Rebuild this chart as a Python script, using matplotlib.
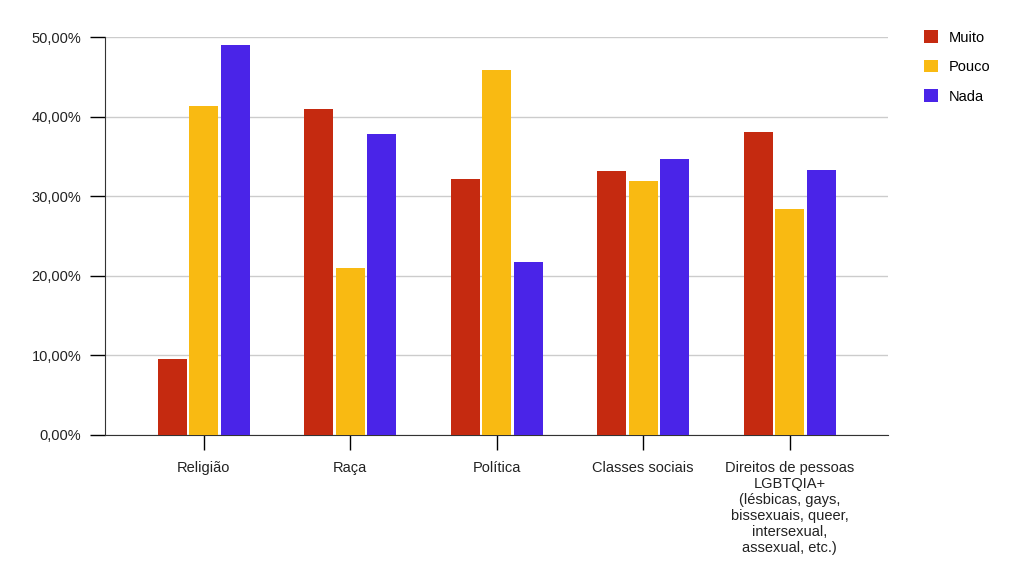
import numpy as np
import matplotlib.pyplot as plt
from matplotlib.ticker import FuncFormatter

plt.rcParams['font.family'] = ['Liberation Sans', 'DejaVu Sans']

categorias = ["Religião", "Raça", "Política", "Classes sociais",
              "Direitos de pessoas\nLGBTQIA+\n(lésbicas, gays,\nbissexuais, queer,\nintersexual,\nassexual, etc.)"]
muito = [9.55, 40.95, 32.2, 33.2, 38.1]
pouco = [41.3, 21.0, 45.9, 31.9, 28.4]
nada = [49.0, 37.8, 21.7, 34.7, 33.3]

series = [("Muito", muito, "#c52a10"),
          ("Pouco", pouco, "#f9ba12"),
          ("Nada", nada, "#4a24e8")]

fig = plt.figure(figsize=(10.24, 5.83), dpi=100)
ax = fig.add_axes([0.1025, 0.2539, 0.7645, 0.6826])

x = np.arange(len(categorias))
width = 0.198
offsets = [-0.215, 0, 0.215]
for (nome, vals, cor), off in zip(series, offsets):
    ax.bar(x + off, np.array(vals) / 100, width, color=cor, label=nome, zorder=3)

ax.set_ylim(0, 0.5)
ax.set_xlim(-0.675, 4.67)
ax.set_yticks(np.arange(0, 0.51, 0.1))
ax.yaxis.set_major_formatter(FuncFormatter(lambda v, p: f"{v*100:.2f}%".replace(".", ",")))
ax.set_xticks(x)
ax.set_xticklabels(categorias, fontsize=10.5, color="#222222", linespacing=1.17)
ax.tick_params(axis='y', length=11, width=1, labelsize=10.5, labelcolor="#222222", pad=6)
ax.tick_params(axis='x', length=11, width=1, pad=8)
ax.grid(axis='y', color="#cccccc", linewidth=1, zorder=0)

for s in ["top", "right"]:
    ax.spines[s].set_visible(False)
for s in ["left", "bottom"]:
    ax.spines[s].set_color("#333333")

ax.legend(loc="upper left", bbox_to_anchor=(1.03, 1.05), frameon=False,
          fontsize=10.5, handlelength=0.95, handleheight=0.95, labelspacing=1.05,
          handletextpad=0.75)

fig.savefig("out.png", dpi=100)
